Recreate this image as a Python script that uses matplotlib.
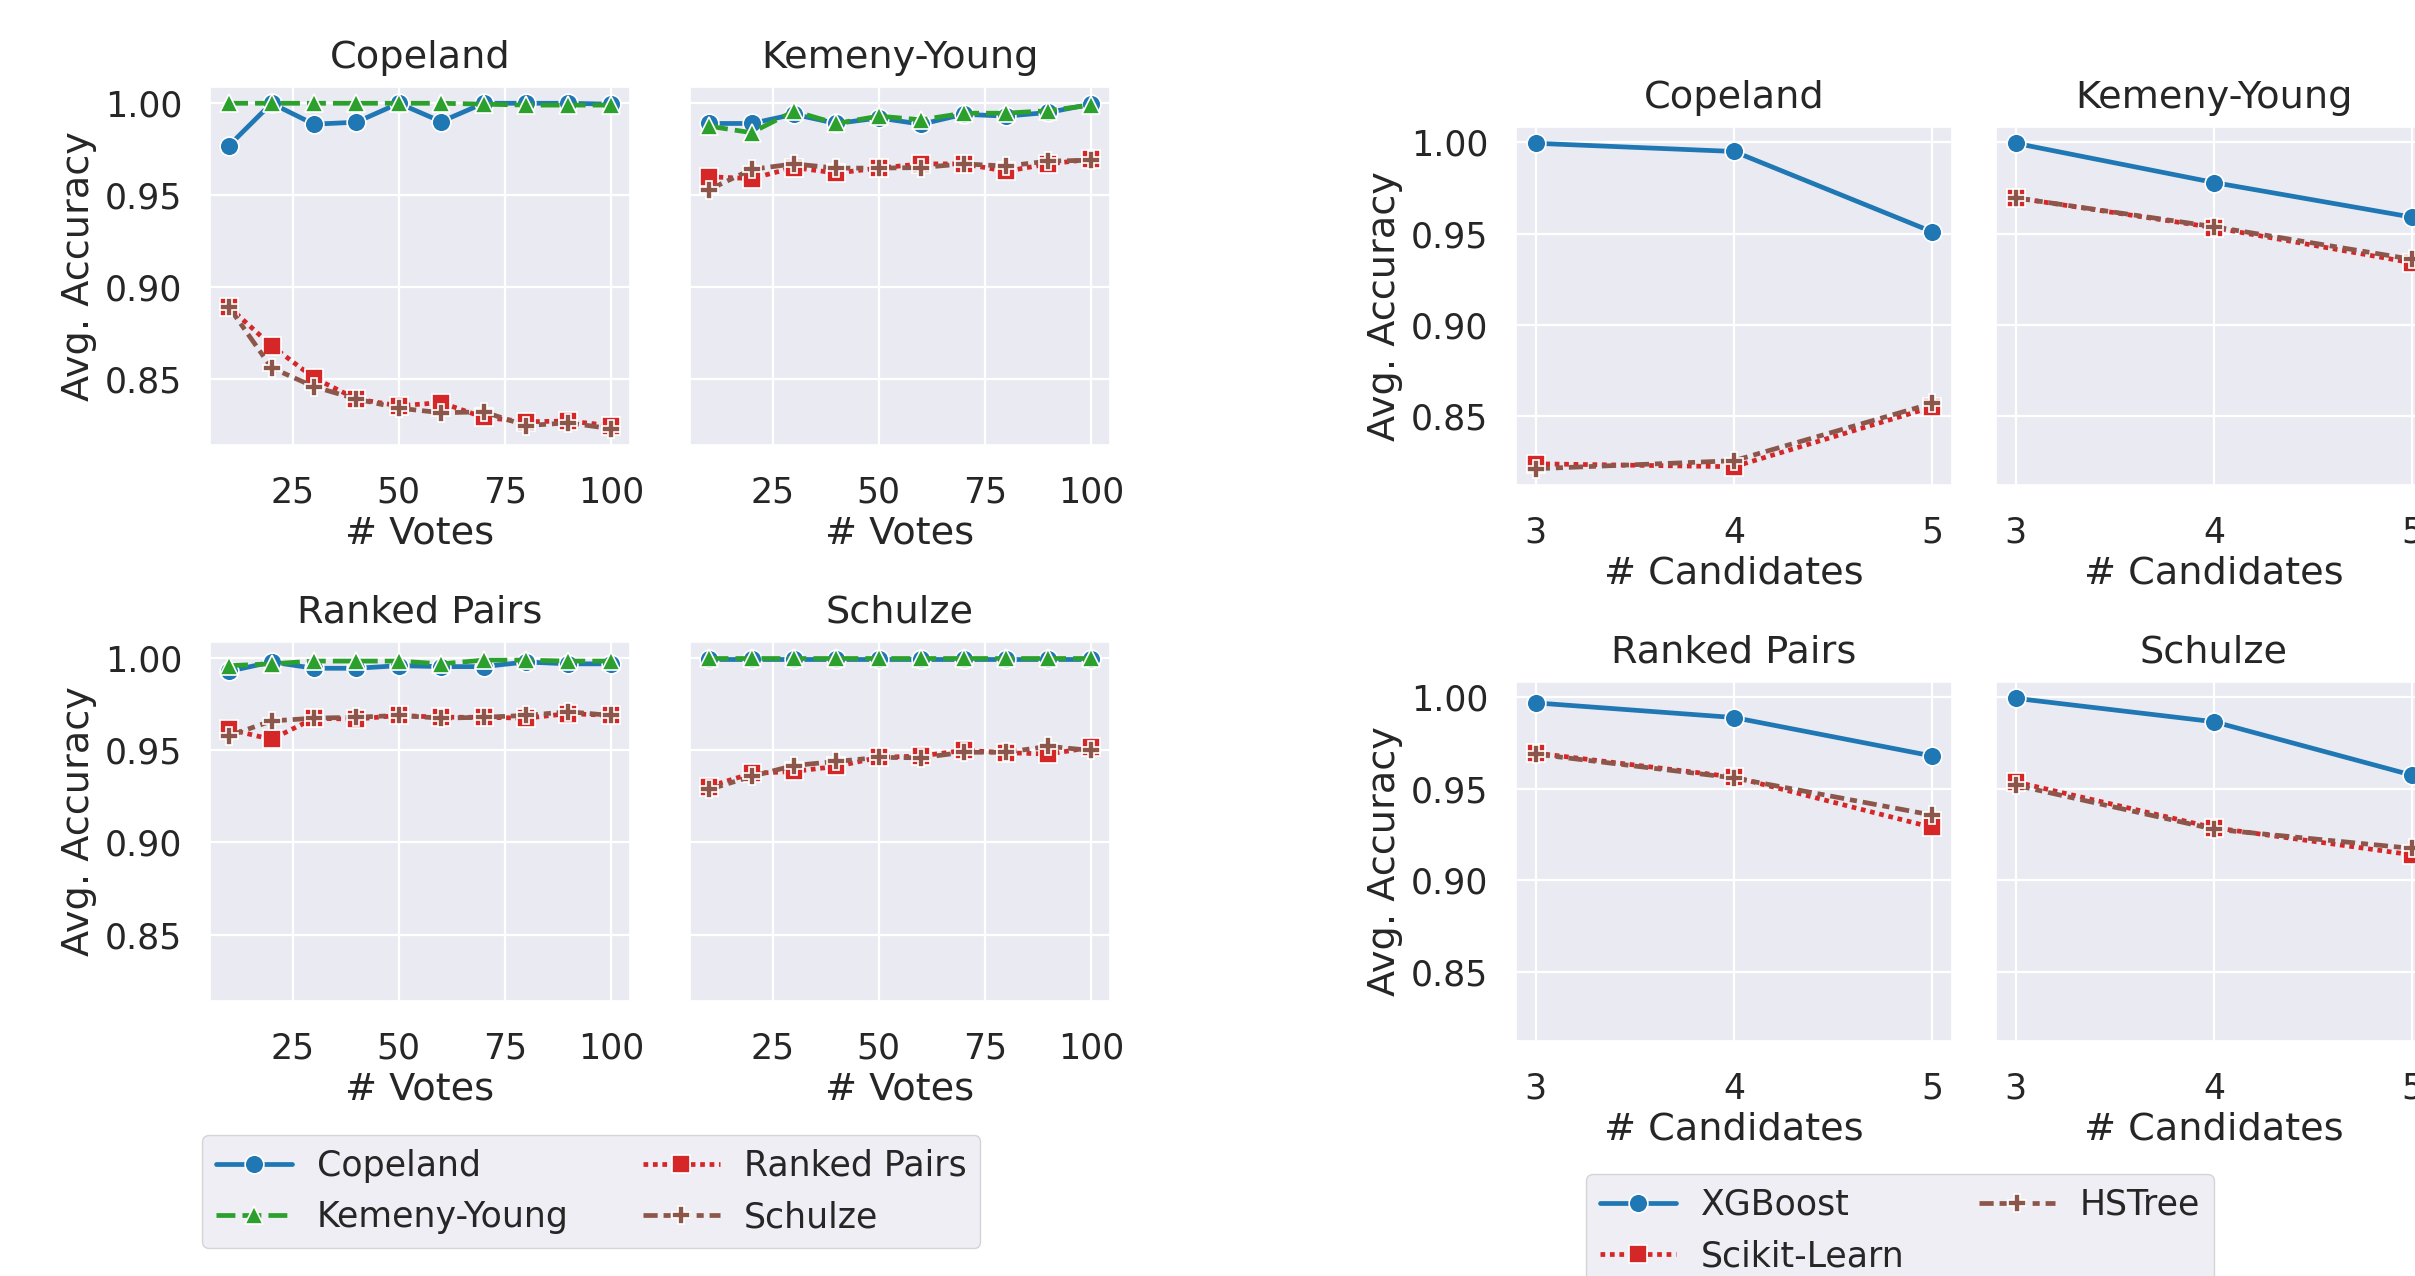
import matplotlib
matplotlib.use("Agg")
import matplotlib.pyplot as plt
import seaborn as sns
from matplotlib.ticker import MultipleLocator, FormatStrFormatter

sns.set_theme(style="darkgrid")
plt.rcParams['font.family'] = ['DejaVu Sans']

# ---------------- data: accuracy vs number of votes ----------------
votes = [10, 20, 30, 40, 50, 60, 70, 80, 90, 100]
rule_names = ["Copeland", "Kemeny-Young", "Ranked Pairs", "Schulze"]

cop_copeland = [0.977, 1.000, 0.9886, 0.9897, 1.000, 0.990, 1.000, 1.000, 1.000, 0.9995]
cop_kemeny = [1.000, 1.000, 1.000, 1.000, 1.000, 1.000, 0.9995, 0.999, 0.999, 0.999]
cop_ranked = [0.889, 0.868, 0.8505, 0.839, 0.8353, 0.837, 0.829, 0.8266, 0.827, 0.8245]
cop_schulze = [0.889, 0.856, 0.8457, 0.839, 0.834, 0.8315, 0.832, 0.8245, 0.826, 0.8228]

ky_copeland = [0.989, 0.989, 0.994, 0.989, 0.992, 0.9886, 0.994, 0.993, 0.995, 0.9995]
ky_kemeny = [0.9875, 0.984, 0.9957, 0.989, 0.993, 0.991, 0.9946, 0.9946, 0.996, 0.999]
ky_ranked = [0.960, 0.959, 0.965, 0.962, 0.9647, 0.967, 0.967, 0.963, 0.967, 0.9695]
ky_schulze = [0.953, 0.964, 0.967, 0.9647, 0.9647, 0.965, 0.967, 0.9658, 0.9685, 0.969]

rp_copeland = [0.993, 0.998, 0.9946, 0.9946, 0.996, 0.9955, 0.9955, 0.998, 0.997, 0.997]
rp_kemeny = [0.996, 0.997, 0.9985, 0.9985, 0.9985, 0.997, 0.999, 0.999, 0.9985, 0.9985]
rp_ranked = [0.9614, 0.956, 0.9674, 0.967, 0.969, 0.968, 0.968, 0.9675, 0.970, 0.969]
rp_schulze = [0.958, 0.966, 0.9675, 0.968, 0.969, 0.9675, 0.968, 0.969, 0.971, 0.969]

sc_copeland = [0.9995, 0.9995, 0.9995, 0.9995, 0.9995, 0.9995, 0.9995, 0.9995, 0.9995, 0.9995]
sc_kemeny = [1.000, 1.000, 1.000, 1.000, 1.000, 1.000, 1.000, 1.000, 1.000, 1.000]
sc_ranked = [0.9304, 0.9375, 0.9386, 0.9413, 0.9462, 0.947, 0.950, 0.9488, 0.948, 0.9516]
sc_schulze = [0.9288, 0.9359, 0.9418, 0.944, 0.9462, 0.946, 0.949, 0.949, 0.9522, 0.950]

# ---------------- data: accuracy vs number of candidates ----------------
candidates = [3, 4, 5]
model_names = ["XGBoost", "Scikit-Learn", "HSTree"]

cop_xgb = [0.9995, 0.995, 0.951]
cop_skl = [0.8239, 0.8223, 0.855]
cop_hst = [0.8212, 0.8256, 0.857]

ky_xgb = [0.9995, 0.978, 0.959]
ky_skl = [0.9696, 0.9533, 0.934]
ky_hst = [0.9696, 0.9538, 0.9359]

rp_xgb = [0.997, 0.989, 0.968]
rp_skl = [0.9696, 0.9565, 0.929]
rp_hst = [0.969, 0.956, 0.9357]

sc_xgb = [0.9995, 0.9867, 0.9575]
sc_skl = [0.9538, 0.9288, 0.914]
sc_hst = [0.952, 0.928, 0.9175]

# ---------------- styling ----------------
BLUE, GREEN, RED, BROWN = "#1f77b4", "#2ca02c", "#d62728", "#8c564b"
rule_styles = [
    dict(color=BLUE, dashes=[], marker="o"),
    dict(color=GREEN, dashes=[4, 1.5], marker="^"),
    dict(color=RED, dashes=[1, 1], marker="s"),
    dict(color=BROWN, dashes=[3, 1.25, 1.5, 1.25], marker="P"),
]
model_styles = [rule_styles[0], rule_styles[2], rule_styles[3]]

LW = 3.4
MS = 13.5
TICK_FS = 25
LABEL_FS = 27.5
TEXT = "#262626"

W, H = 2415, 1276
fig = plt.figure(figsize=(W / 100, H / 100), dpi=100)


def rect(x0, y0, x1, y1):
    return [x0 / W, 1 - y1 / H, (x1 - x0) / W, (y1 - y0) / H]


def draw(ax, x, ys, styles):
    handles = []
    for y, st in zip(ys, styles):
        ln, = ax.plot(x, y, color=st["color"], lw=LW, marker=st["marker"],
                      ms=MS, mec="white", mew=1.2)
        if st["dashes"]:
            ln.set_dashes(st["dashes"])
        handles.append(ln)
    return handles


def style_axes(ax, title, xlabel, show_y):
    ax.set_title(title, fontsize=LABEL_FS, color=TEXT, pad=14)
    ax.set_xlabel(xlabel, fontsize=LABEL_FS, color=TEXT, labelpad=4)
    ax.yaxis.set_major_locator(MultipleLocator(0.05))
    ax.yaxis.set_major_formatter(FormatStrFormatter("%.2f"))
    ax.tick_params(axis="x", labelsize=TICK_FS, colors=TEXT, pad=22, length=0)
    ax.tick_params(axis="y", labelsize=TICK_FS, colors=TEXT, pad=20, length=0,
                   labelleft=show_y)
    ax.grid(True, color="white", lw=1.6)
    if show_y:
        ax.set_ylabel("Avg. Accuracy", fontsize=LABEL_FS, color=TEXT, labelpad=6)


# ---------------- left block: # Votes ----------------
vote_panels = [
    ("Copeland", [cop_copeland, cop_kemeny, cop_ranked, cop_schulze], (210, 87, 630, 445)),
    ("Kemeny-Young", [ky_copeland, ky_kemeny, ky_ranked, ky_schulze], (690, 87, 1110, 445)),
    ("Ranked Pairs", [rp_copeland, rp_kemeny, rp_ranked, rp_schulze], (210, 642, 630, 1001)),
    ("Schulze", [sc_copeland, sc_kemeny, sc_ranked, sc_schulze], (690, 642, 1110, 1001)),
]
first = None
for i, (title, ys, box) in enumerate(vote_panels):
    ax = fig.add_axes(rect(*box), sharey=first, sharex=first)
    if first is None:
        first = ax
    h = draw(ax, votes, ys, rule_styles)
    if i == 0:
        vote_handles = h
    ax.xaxis.set_major_locator(MultipleLocator(25))
    style_axes(ax, title, "# Votes", show_y=(i % 2 == 0))

# ---------------- right block: # Candidates ----------------
cand_panels = [
    ("Copeland", [cop_xgb, cop_skl, cop_hst], (1516, 127, 1952, 485)),
    ("Kemeny-Young", [ky_xgb, ky_skl, ky_hst], (1996, 127, 2432, 485)),
    ("Ranked Pairs", [rp_xgb, rp_skl, rp_hst], (1516, 682, 1952, 1041)),
    ("Schulze", [sc_xgb, sc_skl, sc_hst], (1996, 682, 2432, 1041)),
]
first = None
for i, (title, ys, box) in enumerate(cand_panels):
    ax = fig.add_axes(rect(*box), sharey=first, sharex=first)
    if first is None:
        first = ax
    h = draw(ax, candidates, ys, model_styles)
    if i == 0:
        cand_handles = h
    ax.set_xticks(candidates)
    style_axes(ax, title, "# Candidates", show_y=(i % 2 == 0))

# ---------------- legends ----------------
leg_kw = dict(ncol=2, loc="upper left", fontsize=TICK_FS, frameon=True,
              handlelength=2.2, handletextpad=0.7, columnspacing=2.15,
              borderaxespad=0.0, labelcolor=TEXT)
fig.legend(vote_handles, rule_names, bbox_to_anchor=(202 / W, 1 - 1135 / H), **leg_kw)
fig.legend(cand_handles, model_names, bbox_to_anchor=(1586 / W, 1 - 1174 / H), **leg_kw)

fig.savefig("out.png", dpi=100)
